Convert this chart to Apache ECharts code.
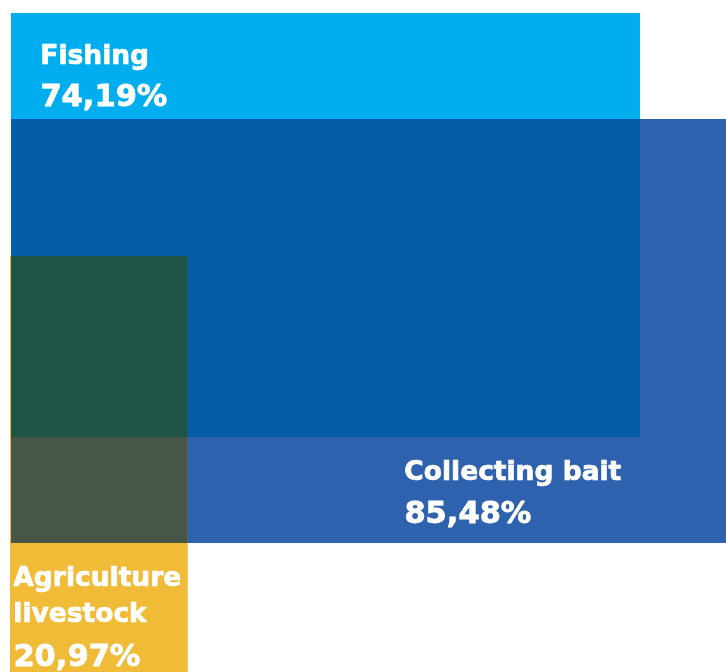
<!DOCTYPE html>
<html><head><meta charset="utf-8">
<script src="https://cdn.jsdelivr.net/npm/echarts@6/dist/echarts.min.js"></script>
<style>html,body{margin:0;padding:0;background:#fff}#c{width:726px;height:672px}</style>
</head><body><div id="c"></div>
<script>
// ---- data ----
const categories = ['Fishing', 'Collecting bait', 'Agriculture\nlivestock'];
const shares = [74.19, 85.48, 20.97]; // percent

// ---- layout (not data) ----
const pxPerPct = 8.478;
const gridLeft = 11;
const rectTop = [13, 119, 256];       // y-axis units (pixels)
const rectHeight = 424;
const rectXStart = [0, 0, -0.12];     // x-axis units (percent)
const setColors = ['#00ADEE', '#2E62AE', '#F0BC37'];
const labelPos = [[40, 63, 106], [404, 479, 523], [13, 585, 666]]; // x, name baseline, value baseline
const overlapColors = { '0-1': '#055CA8', '1-2': '#46574A', '0-1-2': '#1D5546' };

const sets = shares.map((v, i) => ({ x0: rectXStart[i], x1: rectXStart[i] + v, y0: rectTop[i], y1: rectTop[i] + rectHeight }));
function inter(a, b) { return { x0: Math.max(a.x0, b.x0), x1: Math.min(a.x1, b.x1), y0: Math.max(a.y0, b.y0), y1: Math.min(a.y1, b.y1) }; }
const regions = [];
sets.forEach((s, i) => regions.push({ r: s, color: setColors[i] }));
regions.push({ r: inter(sets[0], sets[1]), color: overlapColors['0-1'] });
regions.push({ r: inter(sets[1], sets[2]), color: overlapColors['1-2'] });
regions.push({ r: inter(inter(sets[0], sets[1]), sets[2]), color: overlapColors['0-1-2'] });

const chart = echarts.init(document.getElementById('c'), null, { renderer: 'canvas' });
const fmt = v => v.toFixed(2).replace('.', ',') + '%';
const font = '"DejaVu Sans", sans-serif';
const graphics = [];
categories.forEach((c, i) => {
  const lines = c.split('\n');
  const p = labelPos[i];
  const lineGap = 36;
  lines.forEach((ln, k) => {
    graphics.push({ type: 'text', z: 100, left: p[0], top: p[1] - 20 + k * lineGap,
      style: { text: ln, fill: '#fff', stroke: '#fff', lineWidth: 0.7, font: 'bold 26.5px ' + font } });
  });
  graphics.push({ type: 'text', z: 100, left: p[0], top: p[2] - 24,
    style: { text: fmt(shares[i]), fill: '#fff', stroke: '#fff', lineWidth: 0.8, font: 'bold 30.5px ' + font } });
});

const plotWidth = 726 - gridLeft;
chart.setOption({
  animation: false,
  grid: { left: gridLeft, top: 0, right: 0, bottom: 0 },
  xAxis: { type: 'value', min: 0, max: plotWidth / pxPerPct, show: false },
  yAxis: { type: 'value', min: 0, max: 672, inverse: true, show: false },
  series: [{
    type: 'custom',
    clip: false,
    data: regions.map((g, i) => [i]),
    renderItem: function (params, api) {
      const g = regions[api.value(0)];
      const p0 = api.coord([g.r.x0, g.r.y0]);
      const p1 = api.coord([g.r.x1, g.r.y1]);
      return { type: 'rect', shape: { x: p0[0], y: p0[1], width: p1[0] - p0[0], height: p1[1] - p0[1] }, style: { fill: g.color } };
    }
  }],
  graphic: graphics
});
</script>
</body></html>
